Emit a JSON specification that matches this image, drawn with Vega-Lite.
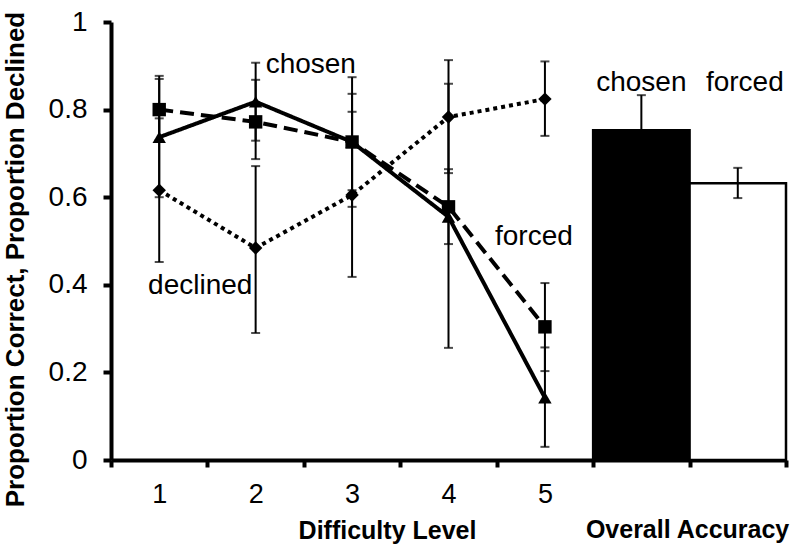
{
  "$schema": "https://vega.github.io/schema/vega-lite/v6.json",
  "width": 675,
  "height": 438,
  "autosize": {"type": "none"},
  "padding": {"left": 111, "top": 22, "right": 14, "bottom": 89},
  "config": {
    "view": {"stroke": null},
    "font": "Liberation Sans",
    "mark": {"color": "black"},
    "axis": {
      "domainColor": "black", "domainWidth": 4, "tickColor": "black", "tickWidth": 4,
      "labelColor": "black", "titleColor": "black", "grid": false
    },
    "axisY": {
      "labelPadding": 16, "tickSize": 8,
      "titleFontSize": 26, "titleFontWeight": "bold",
      "titleX": -96, "titleY": 237, "titleAngle": 270,
      "titleAlign": "center", "titleBaseline": "middle"
    },
    "axisX": {
      "labelAngle": 0, "labelPadding": 14,
      "tickBand": "extent", "tickSize": 7,
      "titleFontSize": 25, "titleFontWeight": "bold",
      "titleX": 276, "titleY": 70, "titleAlign": "center", "titleBaseline": "middle"
    }
  },
  "datasets": {
    "series": [
      {"cat": "1", "series": "chosen", "v": 0.737, "lo": 0.600, "hi": 0.877},
      {"cat": "2", "series": "chosen", "v": 0.818, "lo": 0.729, "hi": 0.907},
      {"cat": "3", "series": "chosen", "v": 0.726, "lo": 0.578, "hi": 0.874},
      {"cat": "4", "series": "chosen", "v": 0.555, "lo": 0.256, "hi": 0.859},
      {"cat": "5", "series": "chosen", "v": 0.142, "lo": 0.030, "hi": 0.257},
      {"cat": "1", "series": "forced", "v": 0.800, "lo": 0.730, "hi": 0.870},
      {"cat": "2", "series": "forced", "v": 0.772, "lo": 0.687, "hi": 0.868},
      {"cat": "3", "series": "forced", "v": 0.726, "lo": 0.616, "hi": 0.836},
      {"cat": "4", "series": "forced", "v": 0.578, "lo": 0.493, "hi": 0.664},
      {"cat": "5", "series": "forced", "v": 0.304, "lo": 0.203, "hi": 0.404},
      {"cat": "1", "series": "declined", "v": 0.616, "lo": 0.452, "hi": 0.780},
      {"cat": "2", "series": "declined", "v": 0.484, "lo": 0.290, "hi": 0.671},
      {"cat": "3", "series": "declined", "v": 0.605, "lo": 0.418, "hi": 0.795},
      {"cat": "4", "series": "declined", "v": 0.783, "lo": 0.655, "hi": 0.913},
      {"cat": "5", "series": "declined", "v": 0.824, "lo": 0.740, "hi": 0.910}
    ],
    "bars": [
      {"cat": "chosen", "v": 0.753, "lo": 0.675, "hi": 0.833},
      {"cat": "forced", "v": 0.632, "lo": 0.598, "hi": 0.667}
    ]
  },
  "encoding": {
    "x": {
      "field": "cat", "type": "nominal",
      "scale": {"domain": ["1", "2", "3", "4", "5", "chosen", "forced"], "paddingInner": 0, "paddingOuter": 0},
      "axis": {
        "labelExpr": "datum.value == 'chosen' || datum.value == 'forced' ? '' : datum.label",
        "labelFontSize": 27
      },
      "title": "Difficulty Level"
    }
  },
  "layer": [
    {
      "data": {"name": "bars"},
      "mark": {"type": "bar", "stroke": "black", "strokeWidth": 2.5},
      "encoding": {
        "y": {
          "field": "v", "type": "quantitative",
          "scale": {"domain": [0, 1], "nice": false, "zero": true},
          "axis": {
            "values": [0, 0.2, 0.4, 0.6, 0.8, 1], "format": "~g",
            "labelFontSize": 28
          },
          "title": "Proportion Correct, Proportion Declined"
        },
        "fill": {
          "field": "cat", "type": "nominal",
          "scale": {"domain": ["chosen", "forced"], "range": ["black", "white"]},
          "legend": null
        }
      }
    },
    {
      "data": {"name": "bars"},
      "mark": {"type": "errorbar", "color": "black", "ticks": {"size": 9, "thickness": 2, "color": "black"}, "rule": {"strokeWidth": 2, "color": "black"}},
      "encoding": {
        "y": {"field": "lo", "type": "quantitative", "title": "Proportion Correct, Proportion Declined"},
        "y2": {"field": "hi"}
      }
    },
    {
      "data": {"name": "series"},
      "mark": {"type": "errorbar", "color": "black", "ticks": {"size": 9, "thickness": 2, "color": "black"}, "rule": {"strokeWidth": 2, "color": "black"}},
      "encoding": {
        "y": {"field": "lo", "type": "quantitative", "title": "Proportion Correct, Proportion Declined"},
        "y2": {"field": "hi"},
        "detail": {"field": "series"}
      }
    },
    {
      "data": {"name": "series"},
      "mark": {"type": "line", "color": "black", "strokeWidth": 4},
      "encoding": {
        "y": {"field": "v", "type": "quantitative", "title": "Proportion Correct, Proportion Declined"},
        "strokeDash": {
          "field": "series", "type": "nominal",
          "scale": {"domain": ["chosen", "forced", "declined"], "range": [[1, 0], [14, 7], [4, 4]]},
          "legend": null
        }
      }
    },
    {
      "data": {"name": "series"},
      "mark": {"type": "point", "filled": true, "color": "black", "opacity": 1, "size": 180},
      "encoding": {
        "y": {"field": "v", "type": "quantitative", "title": "Proportion Correct, Proportion Declined"},
        "shape": {
          "field": "series", "type": "nominal",
          "scale": {"domain": ["chosen", "forced", "declined"], "range": ["triangle-up", "square", "diamond"]},
          "legend": null
        }
      }
    },
    {
      "data": {"values": [{"cat": "2", "v": 0.884, "label": "chosen"}]},
      "mark": {"type": "text", "fontSize": 28, "align": "left", "baseline": "alphabetic", "dx": 10},
      "encoding": {"y": {"field": "v", "type": "quantitative", "title": "Proportion Correct, Proportion Declined"}, "text": {"field": "label"}}
    },
    {
      "data": {"values": [{"cat": "5", "v": 0.491, "label": "forced"}]},
      "mark": {"type": "text", "fontSize": 28, "align": "center", "baseline": "alphabetic", "dx": -11},
      "encoding": {"y": {"field": "v", "type": "quantitative", "title": "Proportion Correct, Proportion Declined"}, "text": {"field": "label"}}
    },
    {
      "data": {"values": [{"cat": "1", "v": 0.379, "label": "declined"}]},
      "mark": {"type": "text", "fontSize": 28, "align": "center", "baseline": "alphabetic", "dx": 41},
      "encoding": {"y": {"field": "v", "type": "quantitative", "title": "Proportion Correct, Proportion Declined"}, "text": {"field": "label"}}
    },
    {
      "data": {"values": [{"cat": "chosen", "v": 0.842, "label": "chosen"}]},
      "mark": {"type": "text", "fontSize": 28, "align": "center", "baseline": "alphabetic"},
      "encoding": {"y": {"field": "v", "type": "quantitative", "title": "Proportion Correct, Proportion Declined"}, "text": {"field": "label"}}
    },
    {
      "data": {"values": [{"cat": "forced", "v": 0.842, "label": "forced"}]},
      "mark": {"type": "text", "fontSize": 28, "align": "center", "baseline": "alphabetic", "dx": 7},
      "encoding": {"y": {"field": "v", "type": "quantitative", "title": "Proportion Correct, Proportion Declined"}, "text": {"field": "label"}}
    },
    {
      "data": {"values": [{"cat": "chosen", "v": -0.16, "label": "Overall Accuracy"}]},
      "mark": {"type": "text", "fontSize": 25, "fontWeight": "bold", "align": "center", "baseline": "middle", "dx": -2},
      "encoding": {
        "x": {"field": "cat", "type": "nominal", "bandPosition": 1, "title": "Difficulty Level"},
        "y": {"field": "v", "type": "quantitative", "title": "Proportion Correct, Proportion Declined"},
        "text": {"field": "label"}
      }
    }
  ]
}
